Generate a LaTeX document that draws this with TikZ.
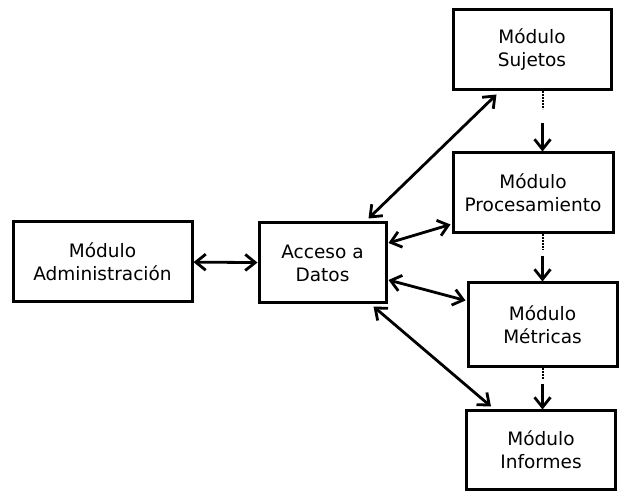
\documentclass[tikz,border=0pt]{standalone}
\usepackage{fontspec}
\setmainfont{DejaVu Sans}
\usetikzlibrary{arrows.meta,positioning,calc}

\begin{document}
\begin{tikzpicture}[x=1pt,y=-1pt,
   box/.style={draw,line width=3pt,minimum width=#1,minimum height=80pt,
     inner sep=0pt,align=center,font=\fontsize{18.5}{23}\selectfont},
   link/.style={{Straight Barb[length=10pt,width=16pt]}-{Straight Barb[length=10pt,width=16pt]},line width=2.8pt},
   flow/.style={-{Straight Barb[length=10pt,width=16pt]},line width=2.8pt},
   dots/.style={densely dotted,line width=2pt}]
  \useasboundingbox (0,0) rectangle (625,492);
  % left part
  \node[box=179pt] (adm) at (102.5,261.5) {Módulo\\Administración};
  \node[box=127pt] (acc) at (322.5,263) {Acceso a\\Datos};
  % modules on the right
  \node[box=158pt] (suj) at (532,50) {Módulo\\Sujetos};
  \node[box=160pt] (proc) at (533,193) {Módulo\\Procesamiento};
  \node[box=149pt,minimum height=84pt] (met) at (542.5,325) {Módulo\\Métricas};
  \node[box=149pt,minimum height=78pt] (inf) at (541,450) {Módulo\\Informes};
  % data access links
  \draw[link] (adm) -- (acc);
  \draw[link] ($(acc.north east)+(-19,-3)$) -- ($(suj.south west)+(45,3)$);
  \draw[link] ($(acc.east)+(1,-20)$) -- ($(proc.south west)+(-1,-10)$);
  \draw[link] ($(acc.east)+(1,17)$) -- ($(met.north west)+(-1,19)$);
  \draw[link] ($(acc.south east)+(-14,2)$) -- ($(inf.north west)+(26,-3)$);
  % processing chain
  \draw[dots] (suj.south -| met) -- ++(0,18) coordinate (d1);
  \draw[flow] ($(d1)+(0,14)$) -- (proc.north -| met);
  \draw[dots] (proc.south -| met) -- ++(0,16) coordinate (d2);
  \draw[flow] ($(d2)+(0,6)$) -- (met.north);
  \draw[dots] (met.south) -- ++(0,12) coordinate (d3);
  \draw[flow] ($(d3)+(0,4)$) -- (inf.north -| met);
\end{tikzpicture}
\end{document}
